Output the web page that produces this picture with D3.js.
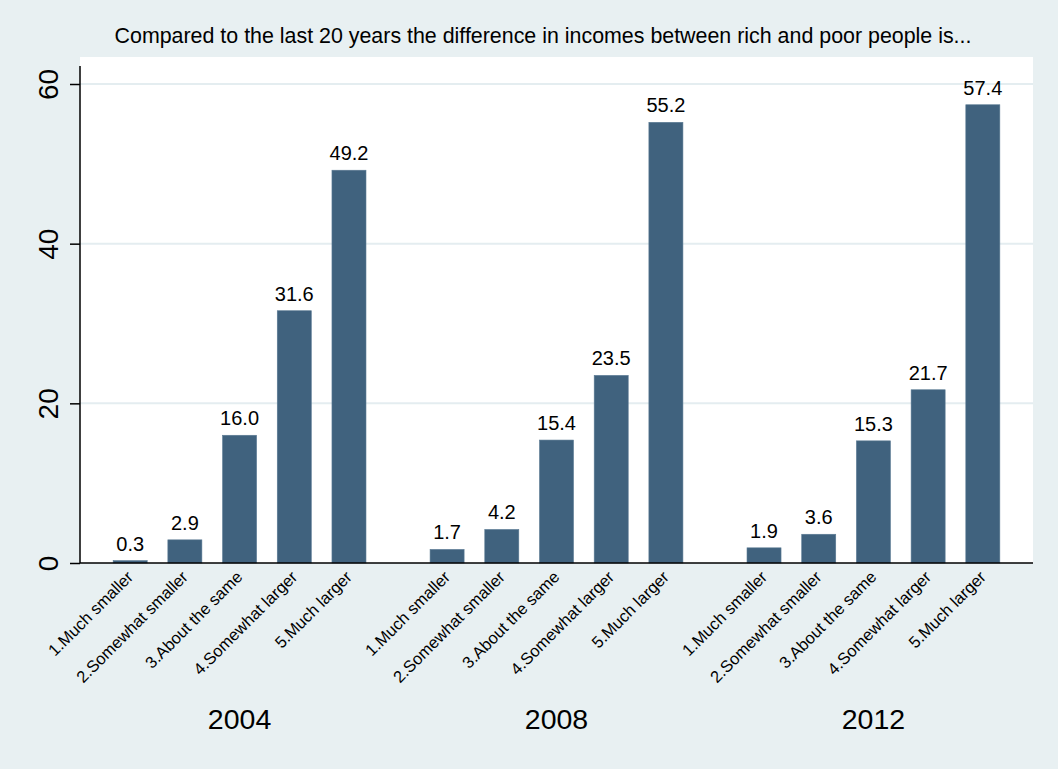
<!DOCTYPE html>
<html>
<head>
<meta charset="utf-8">
<script src="https://cdn.jsdelivr.net/npm/d3@7"></script>
<style>
  html, body { margin: 0; padding: 0; background: #e8f0f2; }
  svg { display: block; font-family: "Liberation Sans", Arial, Helvetica, sans-serif; }
</style>
</head>
<body>
<div id="chart"></div>
<script>
// data
const years = ["2004", "2008", "2012"];
const answers = ["1.Much smaller", "2.Somewhat smaller", "3.About the same", "4.Somewhat larger", "5.Much larger"];
const pct2004 = [0.3, 2.9, 16.0, 31.6, 49.2];
const pct2008 = [1.7, 4.2, 15.4, 23.5, 55.2];
const pct2012 = [1.9, 3.6, 15.3, 21.7, 57.4];
const yTicks = [0, 20, 40, 60];
const title = "Compared to the last 20 years the difference in incomes between rich and poor people is...";

const seriesByYear = { "2004": pct2004, "2008": pct2008, "2012": pct2012 };

const width = 1058, height = 769;
const plot = { left: 80, right: 1033, top: 57, bottom: 563 };

const svg = d3.select("#chart")
  .append("svg")
  .attr("width", width)
  .attr("height", height);

svg.append("rect")
  .attr("width", width).attr("height", height)
  .attr("fill", "#e8f0f2");

// white plot region
svg.append("rect")
  .attr("x", plot.left).attr("y", plot.top)
  .attr("width", plot.right - plot.left)
  .attr("height", plot.bottom - plot.top)
  .attr("fill", "#ffffff");

const yScale = d3.scaleLinear()
  .domain([0, 60])
  .range([plot.bottom, 84]);

const xGroup = d3.scaleBand()
  .domain(years)
  .range([plot.left, plot.right])
  .paddingInner(0.137)
  .paddingOuter(0.072);

const xInner = d3.scaleBand()
  .domain(answers)
  .range([0, xGroup.bandwidth()])
  .paddingInner(0.378)
  .paddingOuter(0.189);

// gridlines
svg.append("g")
  .selectAll("line")
  .data(yTicks.filter(d => d > 0))
  .enter()
  .append("line")
  .attr("x1", plot.left).attr("x2", plot.right)
  .attr("y1", d => yScale(d)).attr("y2", d => yScale(d))
  .attr("stroke", "#e4edf0")
  .attr("stroke-width", 2);

// bars
const groups = svg.selectAll("g.year")
  .data(years)
  .enter()
  .append("g")
  .attr("class", "year")
  .attr("transform", d => "translate(" + xGroup(d) + ",0)");

const rows = d => answers.map((a, i) => ({ year: d, answer: a, value: seriesByYear[d][i] }));

groups.selectAll("rect")
  .data(rows)
  .enter()
  .append("rect")
  .attr("x", d => xInner(d.answer))
  .attr("y", d => yScale(d.value))
  .attr("width", xInner.bandwidth())
  .attr("height", d => yScale(0) - yScale(d.value))
  .attr("fill", "#40627e")
  .attr("stroke", "#5a7a93")
  .attr("stroke-width", 0.6);

groups.selectAll("text.val")
  .data(rows)
  .enter()
  .append("text")
  .attr("class", "val")
  .attr("x", d => xInner(d.answer) + xInner.bandwidth() / 2)
  .attr("y", d => yScale(d.value) - 10)
  .attr("text-anchor", "middle")
  .attr("font-size", 20)
  .attr("fill", "#000")
  .text(d => d.value.toFixed(1));

// category labels, rotated
groups.selectAll("text.cat")
  .data(rows)
  .enter()
  .append("text")
  .attr("class", "cat")
  .attr("text-anchor", "end")
  .attr("font-size", 16.5)
  .attr("fill", "#000")
  .attr("transform", d => {
    const cx = xInner(d.answer) + xInner.bandwidth() / 2 + 4;
    return "translate(" + cx + "," + (plot.bottom + 15) + ") rotate(-45)";
  })
  .text(d => d.answer);

// year labels
groups.append("text")
  .attr("x", xGroup.bandwidth() / 2)
  .attr("y", 729)
  .attr("text-anchor", "middle")
  .attr("font-size", 28.5)
  .attr("fill", "#000")
  .text(d => d);

// axes
const yAxis = d3.axisLeft(yScale)
  .tickValues(yTicks)
  .tickSize(10)
  .tickSizeOuter(0);

const gy = svg.append("g")
  .attr("transform", "translate(" + plot.left + ",0)")
  .call(yAxis);
gy.select(".domain").remove();
gy.selectAll("line").attr("stroke", "#000").attr("stroke-width", 1.5);
gy.selectAll("text")
  .attr("font-size", 28)
  .attr("fill", "#000")
  .attr("font-family", "Liberation Sans, Arial, sans-serif")
  .attr("text-anchor", "middle")
  .attr("x", 0)
  .attr("y", 0)
  .attr("dy", 0)
  .attr("transform", "translate(-22,0) rotate(-90)");

svg.append("line")
  .attr("x1", plot.left).attr("x2", plot.left)
  .attr("y1", 66).attr("y2", plot.bottom)
  .attr("stroke", "#000").attr("stroke-width", 1.5);

svg.append("line")
  .attr("x1", plot.left).attr("x2", plot.right)
  .attr("y1", plot.bottom).attr("y2", plot.bottom)
  .attr("stroke", "#000").attr("stroke-width", 1.5);

// title
svg.append("text")
  .attr("x", 543)
  .attr("y", 43)
  .attr("text-anchor", "middle")
  .attr("font-size", 21.4)
  .attr("fill", "#000")
  .text(title);
</script>
</body>
</html>
